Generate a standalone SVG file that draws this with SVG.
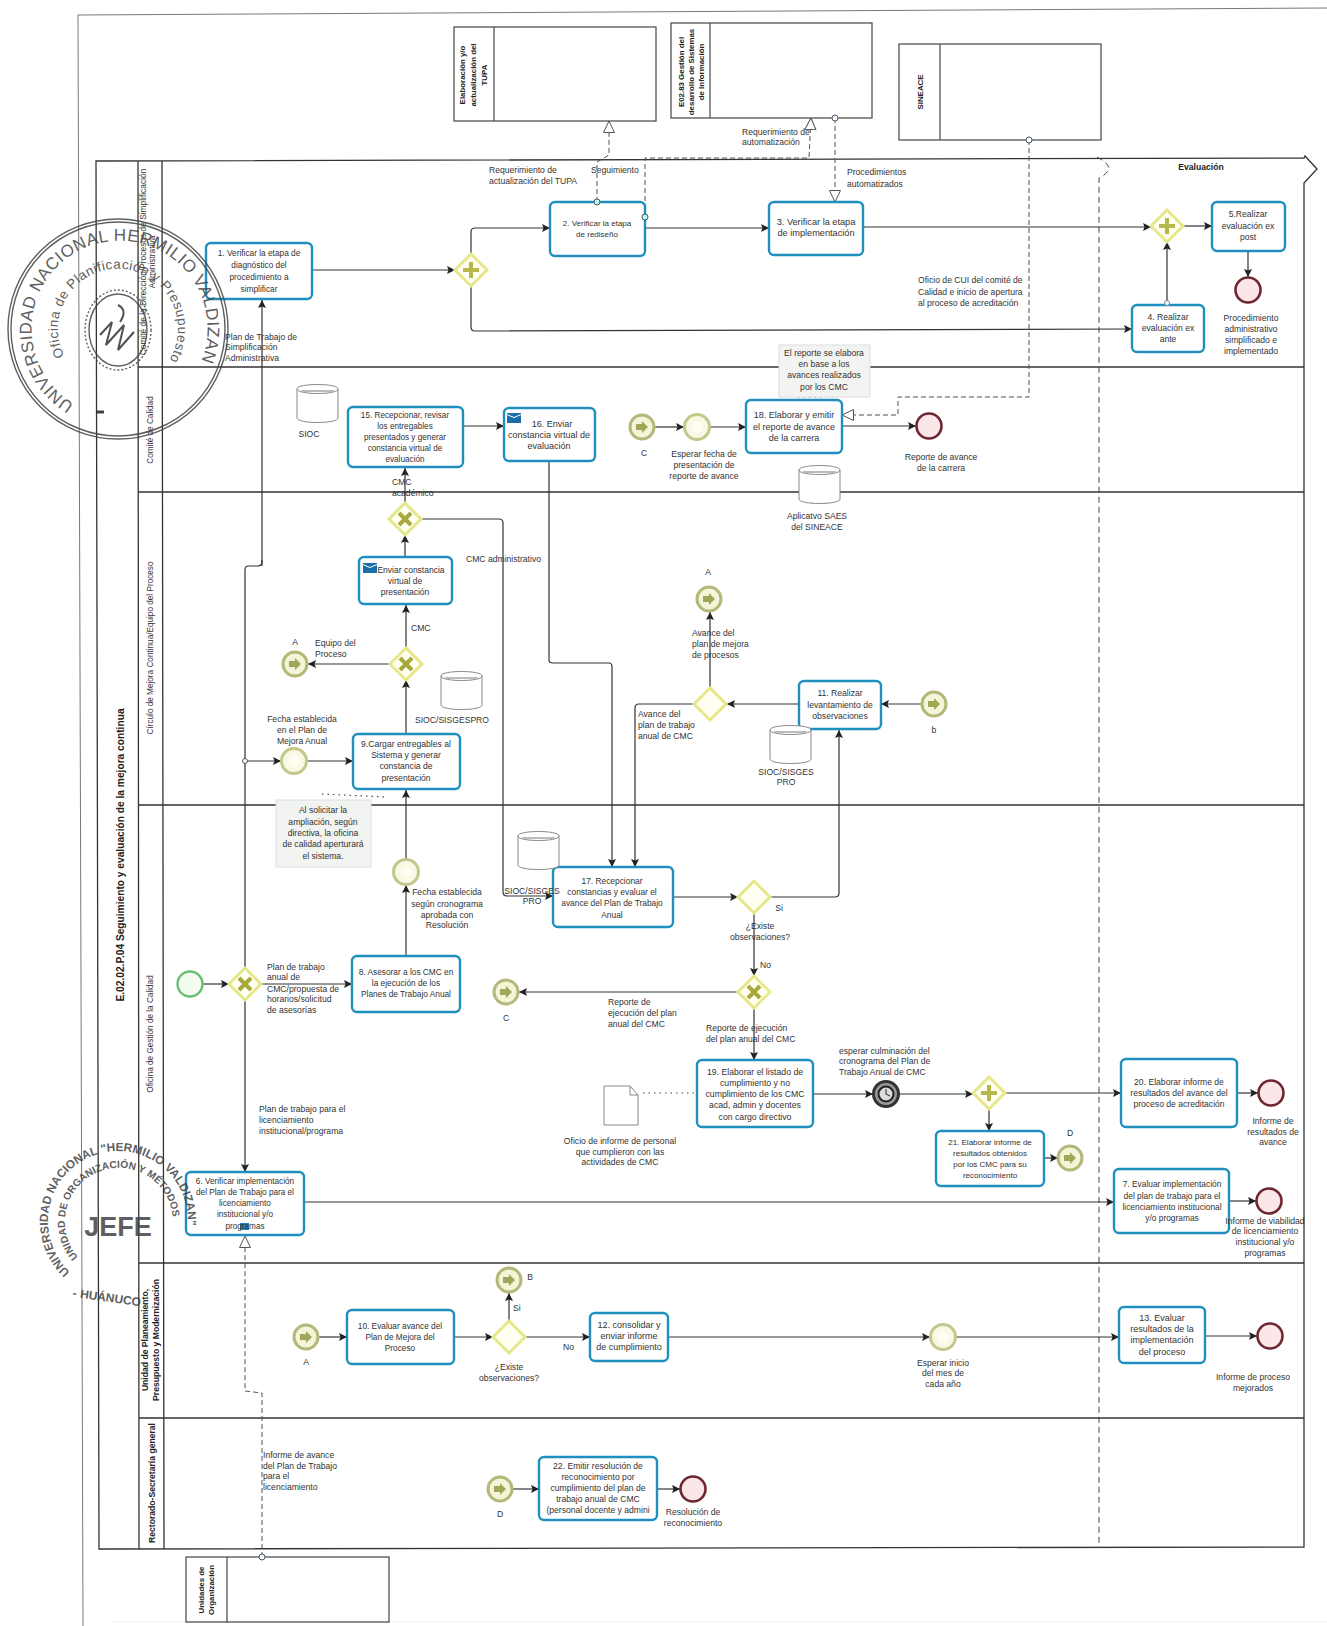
<svg xmlns="http://www.w3.org/2000/svg" width="1327" height="1626" viewBox="0 0 1327 1626">
<style>
text{font-family:"Liberation Sans",Arial,sans-serif;font-size:8.6px;fill:#333}
.c{text-anchor:middle}
.b{font-weight:bold;fill:#222}
.sb{font-size:7.900px}
.task{fill:#fff;stroke:#1f8fbf;stroke-width:2.4}
.sub{fill:#fff;stroke:#444;stroke-width:1.2}
.lane{fill:none;stroke:#333;stroke-width:1.3}
.seq{fill:none;stroke:#333;stroke-width:1.2;marker-end:url(#arr)}
.plain{fill:none;stroke:#333;stroke-width:1.2}
.msga{fill:none;stroke:#555;stroke-width:1;stroke-dasharray:5 3;marker-end:url(#open)}
.dot{fill:none;stroke:#444;stroke-width:1.2;stroke-dasharray:1.5 4}
.note{fill:#f1f4f1;stroke:#ddd;stroke-width:1}
.cyl{fill:#fff;stroke:#888;stroke-width:1}
.stamp{fill:none;stroke:#444;stroke-width:1.4}
.st{fill:#444}
</style>
<defs>
<marker id="arr" markerWidth="9" markerHeight="9" refX="8" refY="4" orient="auto" markerUnits="userSpaceOnUse"><path d="M0 0L8 4L0 8L1.5 4Z" fill="#222"/></marker>
<marker id="open" markerWidth="14" markerHeight="14" refX="12" refY="6" orient="auto" markerUnits="userSpaceOnUse"><path d="M0.5 0.5L12 6L0.5 11.5Z" fill="#fff" stroke="#555" stroke-width="1"/></marker>
<g id="gw"><path d="M0-16L16 0L0 16L-16 0Z" fill="#fffff2" stroke="#e6e68a" stroke-width="3"/></g>
<g id="gwp"><use href="#gw"/><path d="M0-8V8M-8 0H8" stroke="#b8b84a" stroke-width="4"/></g>
<g id="gwx"><use href="#gw"/><path d="M-6-6L6 6M-6 6L6-6" stroke="#a8a83c" stroke-width="4"/></g>
<g id="link"><circle r="12" fill="#f4f4d8" stroke="#b4b87a" stroke-width="3"/><path d="M-6-3H0V-6L6 0L0 6V3H-6Z" fill="#a3a65a"/></g>
<g id="tim"><circle r="12.500" fill="#f8f8e4" stroke="#c4c88a" stroke-width="3"/><circle r="6" fill="#fdfdf2"/></g>
<g id="end"><circle r="12.500" fill="#fbe6e8" stroke="#6e2630" stroke-width="2.600"/></g>
<g id="cy"><path class="cyl" d="M0 6C0 0 41 0 41 6V35C41 41 0 41 0 35Z"/><path d="M0 6C0 12 41 12 41 6" fill="none" stroke="#888"/><path d="M4 8H37" stroke="#bbb" stroke-width="2"/></g>
<path id="mail" d="M0 2L7 5L14 2V10H0ZM0 0H14V1L7 4L0 1Z" fill="#1b6fa8"/>
<path id="s1o" d="M74 404A88 88 0 1 1 148 412"/>
<path id="s1i" d="M64.500 356A60 60 0 1 1 158 373.500"/>
<path id="s2o" d="M70 1272A70 70 0 1 1 166 1272"/>
<path id="s2i" d="M78 1257A54 54 0 1 1 156 1261"/>
</defs>
<rect width="1327" height="1626" fill="#fff"/>
<g id="page-frame" fill="none" stroke="#777" stroke-width="1"><path d="M1327 8L78 15L83 1626"/><path d="M110 1622H1327" stroke="#eee"/></g>

<g id="pool">
<path class="lane" d="M96 161L1304 158L1305 156L1317 169L1304 183V1547L99 1549Z"/>
<path class="lane" d="M138 161L139 1549M162 161L164 1549"/>
<path class="lane" d="M138 367H1304M138 492H1304M138 805H1304M139 1263H1304M139 1418H1304"/>
<path d="M1097 157Q1112 165 1108 171Q1104 176 1099 178V1548" fill="none" stroke="#444" stroke-dasharray="6 4"/>
<text class="b" x="1201" y="170" text-anchor="middle">Evaluación</text>
<text class="b" transform="translate(124 855) rotate(-90)" text-anchor="middle" style="font-size:10.200px">E.02.02.P.04  Seguimiento y evaluación de la mejora continua</text>
<text transform="translate(146 262) rotate(-90)" text-anchor="middle" style="font-size:8.400px">Comité de la Dirección/Procesos de Simplificación</text>
<text transform="translate(155 262) rotate(-90)" text-anchor="middle" style="font-size:8.400px">Administrativa</text>
<text transform="translate(153 430) rotate(-90)" text-anchor="middle" style="font-size:8.200px">Comité de Calidad</text>
<text transform="translate(153 648) rotate(-90)" text-anchor="middle" style="font-size:8.200px">Círculo de Mejora Continua/Equipo del Proceso</text>
<text transform="translate(153 1034) rotate(-90)" text-anchor="middle" style="font-size:8.200px">Oficina de Gestión de la Calidad</text>
<text class="b" transform="translate(148 1340) rotate(-90)" text-anchor="middle">Unidad de Planeamiento,</text>
<text class="b" transform="translate(159 1340) rotate(-90)" text-anchor="middle">Presupuesto y Modernización</text>
<text class="b" transform="translate(155 1483) rotate(-90)" text-anchor="middle">Rectorado-Secretaría general</text>
</g>

<g id="connectors">
<path class="plain" d="M262 560V561Q262 566 258 566H248Q245 566 245 570V968"/>
<path class="seq" d="M262 566V300"/>
<path class="seq" d="M245 1000V1172"/>
<path class="seq" d="M245 761H281"/>
<path class="seq" d="M307 761H353"/>
<path class="seq" d="M203 984H229"/>
<path class="seq" d="M261 984H352"/>
<path class="seq" d="M312 270H455"/>
<path class="seq" d="M471 254V232Q471 228 475 228H550"/>
<path class="seq" d="M471 286V327Q471 331 475 331L1132 329"/>
<path class="seq" d="M645 228H769"/>
<path class="seq" d="M863 227H1151"/>
<path class="seq" d="M1183 226H1212"/>
<path class="seq" d="M1167 305V242"/>
<path class="seq" d="M1248 251V277"/>
<path class="seq" d="M463 426H504"/>
<path class="seq" d="M405 503V468"/>
<path class="seq" d="M405 557V535"/>
<path class="seq" d="M406 648V605"/>
<path class="seq" d="M390 664H308"/>
<path class="seq" d="M406 734V680"/>
<path class="seq" d="M406 859V790"/>
<path class="seq" d="M406 956V885"/>
<path class="seq" d="M421 519H499Q503 519 503 523V892Q503 896 507 896H553"/>
<path class="seq" d="M549 461V660Q549 663 553 663H609Q612 663 612 667V867"/>
<path class="seq" d="M694 704H639Q635 704 635 708V867"/>
<path class="seq" d="M654 427H684"/>
<path class="seq" d="M710 427H746"/>
<path class="seq" d="M842 426H916"/>
<path class="seq" d="M673 897H738"/>
<path class="seq" d="M770 897H835Q839 897 839 893V730"/>
<path class="seq" d="M754 913V976"/>
<path class="seq" d="M738 992H519"/>
<path class="seq" d="M754 1008V1060"/>
<path class="seq" d="M799 704H727"/>
<path class="seq" d="M922 704H881"/>
<path class="seq" d="M710 688V612"/>
<path class="seq" d="M813 1094H873"/>
<path class="seq" d="M899 1094H973"/>
<path class="seq" d="M1005 1093H1121"/>
<path class="seq" d="M1237 1093H1258"/>
<path class="seq" d="M989 1109V1131"/>
<path class="seq" d="M1044 1158H1058"/>
<path class="seq" d="M304 1202H1114"/>
<path class="seq" d="M1229 1201H1256"/>
<path class="seq" d="M318 1337H347"/>
<path class="seq" d="M454 1337H493"/>
<path class="seq" d="M509 1321V1293"/>
<path class="seq" d="M525 1337H590"/>
<path class="seq" d="M668 1337H930"/>
<path class="seq" d="M956 1337H1119"/>
<path class="seq" d="M1205 1336H1257"/>
<path class="seq" d="M512 1489H539"/>
<path class="seq" d="M657 1489H680"/>
<path class="msga" d="M597 202V162L609 155V121"/>
<path class="msga" d="M645 217V158H809L811 118"/>
<path class="msga" d="M835 118V202"/>
<path class="msga" d="M1029 140V397H898V415H842"/>
<path class="msga" d="M262 1557V1393L245 1391V1236"/>
<path class="dot" d="M322 794L387 797"/>
<path class="dot" d="M798 397H826"/>
<path class="dot" d="M643 1093H696"/>
</g>

<g id="sp-tupa"><rect class="sub" x="454" y="27" width="202" height="94"/><path class="sub" d="M494 27V121"/>
<text class="b c sb" transform="translate(465 75) rotate(-90)">Elaboración y/o</text><text class="b c sb" transform="translate(476 75) rotate(-90)">actualización del</text><text class="b c sb" transform="translate(487 75) rotate(-90)">TUPA</text></g>
<g id="sp-e0283"><rect class="sub" x="671" y="23" width="201" height="95"/><path class="sub" d="M710 23V118"/>
<text class="b c sb" transform="translate(684 72) rotate(-90)">E02.83 Gestión del</text><text class="b c sb" transform="translate(694 72) rotate(-90)">desarrollo de Sistemas</text><text class="b c sb" transform="translate(704 72) rotate(-90)">de Información</text></g>
<g id="sp-sineace"><rect class="sub" x="899" y="44" width="202" height="96"/><path class="sub" d="M940 44V140"/>
<text class="b c sb" transform="translate(923 92) rotate(-90)">SINEACE</text></g>
<g id="sp-unidades"><rect class="sub" x="186" y="1557" width="203" height="65"/><path class="sub" d="M227 1557V1622"/>
<text class="b c sb" transform="translate(204 1590) rotate(-90)">Unidades de</text><text class="b c sb" transform="translate(214 1590) rotate(-90)">Organización</text></g>

<g id="t1"><rect class="task" x="206" y="243" width="106" height="56" rx="5"/><text class="c" style="font-size:8.300px"><tspan x="259" y="256">1. Verificar la etapa de</tspan><tspan x="259" y="268">diagnóstico del</tspan><tspan x="259" y="280">procedimiento a</tspan><tspan x="259" y="292">simplificar</tspan></text></g>
<g id="t2"><rect class="task" x="550" y="202" width="95" height="54" rx="5"/><text class="c" style="font-size:8px"><tspan x="597" y="226">2. Verificar la etapa</tspan><tspan x="597" y="237">de rediseño</tspan></text></g>
<g id="t3"><rect class="task" x="769" y="202" width="94" height="53" rx="5"/><text class="c" style="font-size:9.200px"><tspan x="816" y="225">3. Verificar la etapa</tspan><tspan x="816" y="236">de implementación</tspan></text></g>
<g id="t4"><rect class="task" x="1132" y="305" width="72" height="47" rx="5"/><text class="c"><tspan x="1168" y="320">4. Realizar</tspan><tspan x="1168" y="331">evaluación ex</tspan><tspan x="1168" y="342">ante</tspan></text></g>
<g id="t5"><rect class="task" x="1212" y="202" width="73" height="49" rx="5"/><text class="c"><tspan x="1248" y="217">5.Realizar</tspan><tspan x="1248" y="229">evaluación ex</tspan><tspan x="1248" y="240">post</tspan></text></g>
<g id="t15"><rect class="task" x="348" y="407" width="115" height="60" rx="5"/><text class="c" style="font-size:8.200px"><tspan x="405" y="418">15. Recepcionar, revisar</tspan><tspan x="405" y="429">los entregables</tspan><tspan x="405" y="440">presentados y generar</tspan><tspan x="405" y="451">constancia virtual de</tspan><tspan x="405" y="462">evaluación</tspan></text></g>
<g id="t16"><rect class="task" x="504" y="408" width="91" height="53" rx="5"/><use href="#mail" x="507" y="413"/><text class="c" style="font-size:9px"><tspan x="552" y="427">16. Enviar</tspan><tspan x="549" y="438">constancia virtual de</tspan><tspan x="549" y="449">evaluación</tspan></text></g>
<g id="t18"><rect class="task" x="746" y="400" width="96" height="53" rx="5"/><text class="c" style="font-size:9px"><tspan x="794" y="418">18.  Elaborar y emitir</tspan><tspan x="794" y="430">el reporte de avance</tspan><tspan x="794" y="441">de la carrera</tspan></text></g>
<g id="tEnv"><rect class="task" x="359" y="557" width="93" height="47" rx="5"/><use href="#mail" x="363" y="563"/><text class="c" style="font-size:8.500px"><tspan x="411" y="573">Enviar constancia</tspan><tspan x="405" y="584">virtual de</tspan><tspan x="405" y="595">presentación</tspan></text></g>
<g id="t9"><rect class="task" x="353" y="734" width="107" height="55" rx="5"/><text class="c"><tspan x="406" y="747">9.Cargar entregables al</tspan><tspan x="406" y="758">Sistema y generar</tspan><tspan x="406" y="769">constancia de</tspan><tspan x="406" y="781">presentación</tspan></text></g>
<g id="t8"><rect class="task" x="352" y="956" width="108" height="56" rx="5"/><text class="c" style="font-size:8.300px"><tspan x="406" y="975">8. Asesorar a los CMC en</tspan><tspan x="406" y="986">la ejecución de los</tspan><tspan x="406" y="997">Planes de Trabajo Anual</tspan></text></g>
<g id="t11"><rect class="task" x="799" y="681" width="82" height="48" rx="5"/><text class="c"><tspan x="840" y="696">11. Realizar</tspan><tspan x="840" y="708">levantamiento de</tspan><tspan x="840" y="719">observaciones</tspan></text></g>
<g id="t17"><rect class="task" x="553" y="867" width="120" height="60" rx="5"/><text class="c" style="font-size:8.400px"><tspan x="612" y="884">17. Recepcionar</tspan><tspan x="612" y="895">constancias y evaluar el</tspan><tspan x="612" y="906">avance del Plan de Trabajo</tspan><tspan x="612" y="918">Anual</tspan></text></g>
<g id="t19"><rect class="task" x="697" y="1060" width="116" height="67" rx="5"/><text class="c" style="font-size:8.700px"><tspan x="755" y="1075">19. Elaborar el listado de</tspan><tspan x="755" y="1086">cumplimiento y no</tspan><tspan x="755" y="1097">cumplimiento de los CMC</tspan><tspan x="755" y="1108">acad, admin y docentes</tspan><tspan x="755" y="1120">con cargo directivo</tspan></text></g>
<g id="t20"><rect class="task" x="1121" y="1059" width="116" height="68" rx="5"/><text class="c" style="font-size:8.600px"><tspan x="1179" y="1085">20. Elaborar informe de</tspan><tspan x="1179" y="1096">resultados del avance del</tspan><tspan x="1179" y="1107">proceso de acreditación</tspan></text></g>
<g id="t21"><rect class="task" x="936" y="1131" width="108" height="55" rx="5"/><text class="c" style="font-size:8px"><tspan x="990" y="1145">21. Elaborar informe de</tspan><tspan x="990" y="1156">resultados obtenidos</tspan><tspan x="990" y="1167">por los CMC para su</tspan><tspan x="990" y="1178">reconocimiento</tspan></text></g>
<g id="t7"><rect class="task" x="1114" y="1169" width="115" height="64" rx="5"/><text class="c" style="font-size:8.400px"><tspan x="1172" y="1187">7. Evaluar implementación</tspan><tspan x="1172" y="1199">del plan de trabajo para el</tspan><tspan x="1172" y="1210">licenciamiento institucional</tspan><tspan x="1172" y="1221">y/o programas</tspan></text></g>
<g id="t6"><rect class="task" x="186" y="1172" width="118" height="63" rx="5"/><rect x="240" y="1223" width="9" height="7" fill="#2a7db5"/><text class="c" style="font-size:8.200px"><tspan x="245" y="1184">6. Verificar implementación</tspan><tspan x="245" y="1195">del Plan de Trabajo para el</tspan><tspan x="245" y="1206">licenciamiento</tspan><tspan x="245" y="1217">institucional y/o</tspan><tspan x="245" y="1229">programas</tspan></text></g>
<g id="t10"><rect class="task" x="347" y="1310" width="107" height="54" rx="5"/><text class="c" style="font-size:8.300px"><tspan x="400" y="1329">10. Evaluar avance del</tspan><tspan x="400" y="1340">Plan de Mejora del</tspan><tspan x="400" y="1351">Proceso</tspan></text></g>
<g id="t12"><rect class="task" x="590" y="1313" width="78" height="48" rx="5"/><text class="c" style="font-size:9px"><tspan x="629" y="1328">12. consolidar y</tspan><tspan x="629" y="1339">enviar informe</tspan><tspan x="629" y="1350">de cumplimiento</tspan></text></g>
<g id="t13"><rect class="task" x="1119" y="1307" width="86" height="56" rx="5"/><text class="c" style="font-size:9px"><tspan x="1162" y="1321">13. Evaluar</tspan><tspan x="1162" y="1332">resultados de la</tspan><tspan x="1162" y="1343">implementación</tspan><tspan x="1162" y="1355">del proceso</tspan></text></g>
<g id="t22"><rect class="task" x="539" y="1457" width="118" height="63" rx="5"/><text class="c" style="font-size:8.600px"><tspan x="598" y="1469">22. Emitir resolución de</tspan><tspan x="598" y="1480">reconocimiento por</tspan><tspan x="598" y="1491">cumplimiento del plan de</tspan><tspan x="598" y="1502">trabajo anual de CMC</tspan><tspan x="598" y="1513">(personal docente y admini</tspan></text></g>

<g id="gw1"><use href="#gwp" x="471" y="270"/></g>
<g id="gw2"><use href="#gwp" x="1167" y="226"/></g>
<g id="gw3"><use href="#gwx" x="405" y="519"/></g>
<g id="gw4"><use href="#gwx" x="406" y="664"/></g>
<g id="gw5"><use href="#gwx" x="245" y="984"/></g>
<g id="gw6"><use href="#gw" x="710" y="704"/></g>
<g id="gw7"><use href="#gw" x="754" y="897"/></g>
<g id="gw8"><use href="#gwx" x="754" y="992"/></g>
<g id="gw9"><use href="#gwp" x="989" y="1093"/></g>
<g id="gw10"><use href="#gw" x="509" y="1337"/></g>

<g id="start"><circle cx="190" cy="984" r="12.500" fill="#f4fbf0" stroke="#6cbf74" stroke-width="2.400"/></g>
<g id="ev-c1"><use href="#link" x="642" y="427"/></g>
<g id="ev-t1"><use href="#tim" x="697" y="427"/></g>
<g id="ev-t2"><use href="#tim" x="294" y="761"/></g>
<g id="ev-t3"><use href="#tim" x="406" y="872"/></g>
<g id="ev-t4"><use href="#tim" x="943" y="1337"/></g>
<g id="ev-a1"><use href="#link" x="295" y="664"/></g>
<g id="ev-a2"><use href="#link" x="709" y="599"/></g>
<g id="ev-a3"><use href="#link" x="306" y="1337"/></g>
<g id="ev-b1"><use href="#link" x="934" y="704"/></g>
<g id="ev-b2"><use href="#link" x="509" y="1280"/></g>
<g id="ev-c2"><use href="#link" x="506" y="992"/></g>
<g id="ev-d1"><use href="#link" x="1070" y="1158"/></g>
<g id="ev-d2"><use href="#link" x="500" y="1489"/></g>
<g id="ev-clock"><circle cx="886" cy="1094" r="12.500" fill="#999" stroke="#333" stroke-width="3"/><circle cx="886" cy="1094" r="7.500" fill="#ddd" stroke="#222" stroke-width="2"/><path d="M886 1089V1094L890 1096" stroke="#222" fill="none"/></g>
<g id="ev-e1"><use href="#end" x="1248" y="290"/></g>
<g id="ev-e2"><use href="#end" x="929" y="426"/></g>
<g id="ev-e3"><use href="#end" x="1271" y="1093"/></g>
<g id="ev-e4"><use href="#end" x="1269" y="1201"/></g>
<g id="ev-e5"><use href="#end" x="1270" y="1336"/></g>
<g id="ev-e6"><use href="#end" x="693" y="1489"/></g>

<g id="db1"><use href="#cy" x="297" y="383"/><text class="c" x="309" y="437">SIOC</text></g>
<g id="db2"><use href="#cy" x="799" y="464"/><text class="c"><tspan x="817" y="519">Aplicatvo SAES</tspan><tspan x="817" y="530">del SINEACE</tspan></text></g>
<g id="db3"><use href="#cy" x="441" y="670"/><text class="c" x="452" y="723">SIOC/SISGESPRO</text></g>
<g id="db4"><use href="#cy" x="770" y="724"/><text class="c"><tspan x="786" y="775">SIOC/SISGES</tspan><tspan x="786" y="785">PRO</tspan></text></g>
<g id="db5"><use href="#cy" x="518" y="830"/><text class="c"><tspan x="532" y="894">SIOC/SISGES</tspan><tspan x="532" y="904">PRO</tspan></text></g>
<g id="doc"><path d="M604 1086H630L638 1095V1125H604Z" fill="#fff" stroke="#888"/><path d="M630 1086V1095H638" fill="none" stroke="#888"/><text class="c"><tspan x="620" y="1144">Oficio de informe de personal</tspan><tspan x="620" y="1155">que cumplieron con las</tspan><tspan x="620" y="1165">actividades de CMC</tspan></text></g>

<g id="note1"><rect class="note" x="779" y="345" width="91" height="52"/><text class="c"><tspan x="824" y="356">El reporte se elabora</tspan><tspan x="824" y="367">en base a los</tspan><tspan x="824" y="378">avances realizados</tspan><tspan x="824" y="390">por los CMC</tspan></text></g>
<g id="note2"><rect class="note" x="276" y="800" width="95" height="67"/><text class="c"><tspan x="323" y="813">Al solicitar la</tspan><tspan x="323" y="825">ampliación, según</tspan><tspan x="323" y="836">directiva, la oficina</tspan><tspan x="323" y="847">de calidad aperturará</tspan><tspan x="323" y="859">el sistema.</tspan></text></g>

<g id="labels">
<text><tspan x="489" y="173">Requerimiento de</tspan><tspan x="489" y="184">actualización del TUPA</tspan></text>
<text x="591" y="173">Seguimiento</text>
<text><tspan x="742" y="135">Requerimiento de</tspan><tspan x="742" y="145">automatización</tspan></text>
<text><tspan x="847" y="175">Procedimientos</tspan><tspan x="847" y="187">automatizados</tspan></text>
<text><tspan x="918" y="283">Oficio de CUI del comité de</tspan><tspan x="918" y="295">Calidad e inicio de apertura</tspan><tspan x="918" y="306">al proceso de acreditación</tspan></text>
<text class="c"><tspan x="1251" y="321">Procedimiento</tspan><tspan x="1251" y="332">administrativo</tspan><tspan x="1251" y="343">simplificado e</tspan><tspan x="1251" y="354">implementado</tspan></text>
<text><tspan x="225" y="340">Plan de Trabajo de</tspan><tspan x="225" y="350">Simplificación</tspan><tspan x="225" y="361">Administrativa</tspan></text>
<text class="c"><tspan x="941" y="460">Reporte de avance</tspan><tspan x="941" y="471">de la carrera</tspan></text>
<text class="c"><tspan x="704" y="457">Esperar fecha de</tspan><tspan x="704" y="468">presentación de</tspan><tspan x="704" y="479">reporte de  avance</tspan></text>
<text class="c" x="644" y="456">C</text>
<text><tspan x="392" y="485">CMC</tspan><tspan x="392" y="496">académico</tspan></text>
<text x="466" y="562">CMC administrativo</text>
<text x="411" y="631">CMC</text>
<text class="c" x="295" y="645">A</text>
<text><tspan x="315" y="646">Equipo del</tspan><tspan x="315" y="657">Proceso</tspan></text>
<text class="c"><tspan x="302" y="722">Fecha establecida</tspan><tspan x="302" y="733">en el Plan de</tspan><tspan x="302" y="744">Mejora Anual</tspan></text>
<text class="c"><tspan x="447" y="895">Fecha establecida</tspan><tspan x="447" y="907">según cronograma</tspan><tspan x="447" y="918">aprobada con</tspan><tspan x="447" y="928">Resolución</tspan></text>
<text><tspan x="267" y="970">Plan de trabajo</tspan><tspan x="267" y="980">anual de</tspan><tspan x="267" y="992">CMC/propuesta de</tspan><tspan x="267" y="1002">horarios/solicitud</tspan><tspan x="267" y="1013">de asesorías</tspan></text>
<text class="c" x="708" y="575">A</text>
<text><tspan x="692" y="636">Avance del</tspan><tspan x="692" y="647">plan de mejora</tspan><tspan x="692" y="658">de procesos</tspan></text>
<text><tspan x="638" y="717">Avance del</tspan><tspan x="638" y="728">plan de trabajo</tspan><tspan x="638" y="739">anual de CMC</tspan></text>
<text class="c" x="934" y="733">b</text>
<text class="c" x="779" y="911">Si</text>
<text class="c"><tspan x="760" y="929">¿Existe</tspan><tspan x="760" y="940">observaciones?</tspan></text>
<text x="760" y="968">No</text>
<text><tspan x="608" y="1005">Reporte de</tspan><tspan x="608" y="1016">ejecución del plan</tspan><tspan x="608" y="1027">anual del CMC</tspan></text>
<text class="c" x="506" y="1021">C</text>
<text><tspan x="706" y="1031">Reporte de ejecución</tspan><tspan x="706" y="1042">del plan  anual del CMC</tspan></text>
<text><tspan x="839" y="1054">esperar culminación del</tspan><tspan x="839" y="1064">cronograma del Plan de</tspan><tspan x="839" y="1075">Trabajo Anual de CMC</tspan></text>
<text class="c"><tspan x="1273" y="1124">Informe de</tspan><tspan x="1273" y="1135">resultados de</tspan><tspan x="1273" y="1145">avance</tspan></text>
<text class="c" x="1070" y="1136">D</text>
<text class="c"><tspan x="1265" y="1224">Informe de viabilidad</tspan><tspan x="1265" y="1234">de licenciamiento</tspan><tspan x="1265" y="1245">institucional y/o</tspan><tspan x="1265" y="1256">programas</tspan></text>
<text><tspan x="259" y="1112">Plan de trabajo para el</tspan><tspan x="259" y="1123">licenciamiento</tspan><tspan x="259" y="1134">institucional/programa</tspan></text>
<text class="c"><tspan x="509" y="1370">¿Existe</tspan><tspan x="509" y="1381">observaciones?</tspan></text>
<text class="c" x="306" y="1365">A</text>
<text class="c" x="530" y="1280">B</text>
<text x="513" y="1311">Si</text>
<text x="563" y="1350">No</text>
<text class="c"><tspan x="943" y="1366">Esperar  inicio</tspan><tspan x="943" y="1376">del mes de</tspan><tspan x="943" y="1387">cada año</tspan></text>
<text class="c"><tspan x="1253" y="1380">Informe de proceso</tspan><tspan x="1253" y="1391">mejorados</tspan></text>
<text class="c" x="500" y="1517">D</text>
<text class="c"><tspan x="693" y="1515">Resolución de</tspan><tspan x="693" y="1526">reconocimiento</tspan></text>
<text><tspan x="263" y="1458">Informe de avance</tspan><tspan x="263" y="1469">del Plan de Trabajo</tspan><tspan x="263" y="1479">para el</tspan><tspan x="263" y="1490">licenciamiento</tspan></text>
</g>

<g id="msg-dots">
<circle cx="597" cy="202" r="3" fill="#bfe" stroke="#456"/>
<circle cx="645" cy="217" r="3" fill="#bfe" stroke="#456"/>
<circle cx="835" cy="118" r="3" fill="#fff" stroke="#456"/>
<circle cx="1029" cy="140" r="3" fill="#fff" stroke="#456"/>
<circle cx="262" cy="1557" r="3" fill="#fff" stroke="#456"/>
<circle cx="1167" cy="303" r="2.500" fill="#dff" stroke="#789"/>
<circle cx="245" cy="761" r="2.500" fill="#fff" stroke="#456"/>
</g>

<g id="stamp1" opacity="0.85">
<circle class="stamp" cx="118" cy="329" r="110"/><circle class="stamp" cx="118" cy="329" r="107"/>
<ellipse class="stamp" cx="118" cy="330" rx="33" ry="40" stroke-dasharray="2 2"/><ellipse class="stamp" cx="118" cy="330" rx="29" ry="36"/>
<path d="M100 335L112 322L106 345L124 325L118 350L134 332M118 305Q128 310 120 322" fill="none" stroke="#333" stroke-width="2"/>
<path d="M97 412H104" stroke="#222" stroke-width="3"/>
<text class="st" style="font-size:17px;letter-spacing:.5px"><textPath href="#s1o">UNIVERSIDAD NACIONAL HERMILIO VALDIZAN</textPath></text>
<text class="st" style="font-size:13.500px;letter-spacing:.5px"><textPath href="#s1i">Oficina de Planificación y Presupuesto</textPath></text>
</g>
<g id="stamp2" opacity="0.85">
<text class="st" style="font-size:11.800px;font-weight:bold"><textPath href="#s2o">UNIVERSIDAD NACIONAL "HERMILIO VALDIZAN"</textPath></text>
<text class="st" style="font-size:10.200px;font-weight:bold"><textPath href="#s2i">UNIDAD DE ORGANIZACIÓN Y MÉTODOS</textPath></text>
<text class="st c" x="118" y="1236" style="font-size:27px;font-weight:bold">JEFE</text>
<text class="st c" transform="translate(110 1302) rotate(8)" style="font-size:12px;font-weight:bold">- HUÁNUCO -</text>
</g>
</svg>
